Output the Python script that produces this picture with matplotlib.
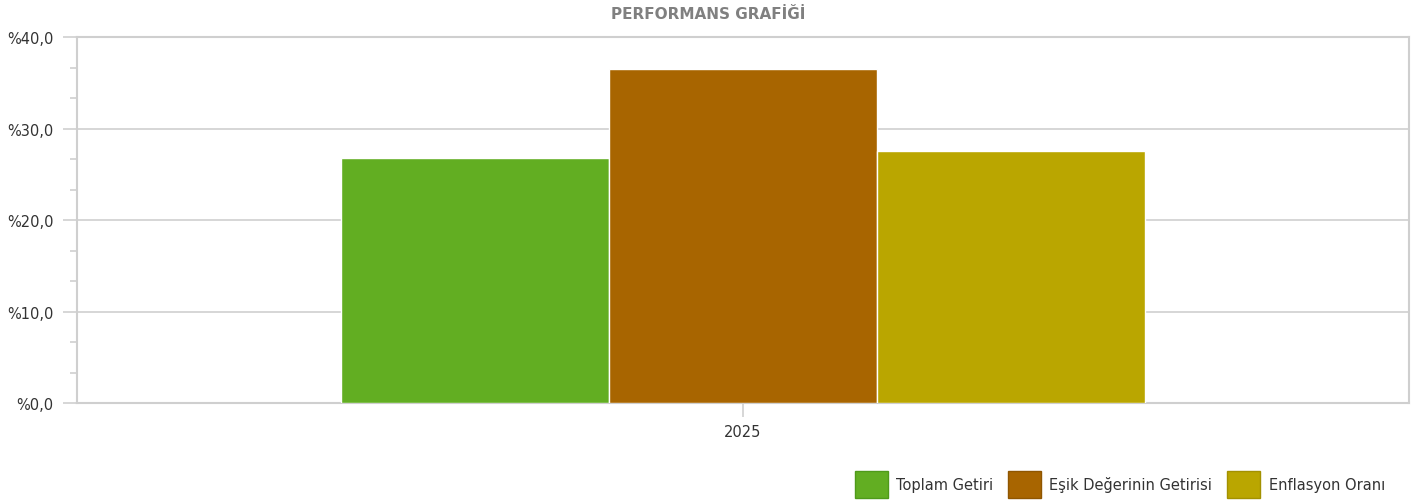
import matplotlib
matplotlib.use("Agg")
import matplotlib.pyplot as plt
from matplotlib.patches import Patch
from matplotlib.ticker import MultipleLocator, FuncFormatter

# Data
years = ["2025"]
series_names = ["Toplam Getiri", "Eşik Değerinin Getirisi", "Enflasyon Oranı"]
series_values = [26.8, 36.5, 27.5]
series_colors = ["#62ae22", "#a86500", "#baa600"]
legend_edges = ["#4f9a1a", "#8f5600", "#a39100"]

plt.rcParams["font.family"] = ["DejaVu Sans"]

fig = plt.figure(figsize=(14.16, 5.02), dpi=100)
ax = fig.add_axes([0.0544, 0.1952, 0.9407, 0.7291])

grid_col = "#cfcfcf"
text_col = "#333333"

# grouped bars around the single category
bar_w = 0.201
n = len(series_values)
for i, (name, val, col) in enumerate(zip(series_names, series_values, series_colors)):
    x = (i - (n - 1) / 2) * bar_w
    ax.bar(x, val, width=bar_w, color=col, edgecolor="white", linewidth=1.0,
           label=name, zorder=3)

ax.set_xlim(-0.5, 0.5)
ax.set_ylim(0, 40)
ax.set_xticks([0])
ax.set_xticklabels(years)

ax.yaxis.set_major_locator(MultipleLocator(10))
ax.yaxis.set_minor_locator(MultipleLocator(10 / 3))
ax.yaxis.set_major_formatter(FuncFormatter(lambda v, p: "%" + f"{v:.1f}".replace(".", ",")))

ax.grid(axis="y", which="major", color=grid_col, linewidth=1.2, zorder=0)
for s in ax.spines.values():
    s.set_color(grid_col)
    s.set_linewidth(1.5)

ax.tick_params(axis="y", which="major", length=10, width=1.2, color=grid_col,
               labelsize=10.5, labelcolor=text_col, pad=7)
ax.tick_params(axis="y", which="minor", length=5, width=1.2, color=grid_col)
ax.tick_params(axis="x", length=10, width=1.2, color=grid_col,
               labelsize=10.5, labelcolor=text_col, pad=5)

fig.text(0.5, 0.972, "PERFORMANS GRAFİĞİ", ha="center", va="center",
         fontsize=11, fontweight="bold", color="#808080")

handles = [Patch(facecolor=c, edgecolor=e, linewidth=1.0, label=name)
           for name, c, e in zip(series_names, series_colors, legend_edges)]
fig.legend(handles=handles, loc="lower right", bbox_to_anchor=(0.98, 0.0),
           ncol=3, frameon=False, fontsize=10.5, handlelength=2.3,
           handleheight=2.5, handletextpad=0.55, columnspacing=1.0,
           labelcolor=text_col, borderaxespad=0.0, borderpad=0.2)

fig.savefig("out.png", dpi=100, facecolor="white")
